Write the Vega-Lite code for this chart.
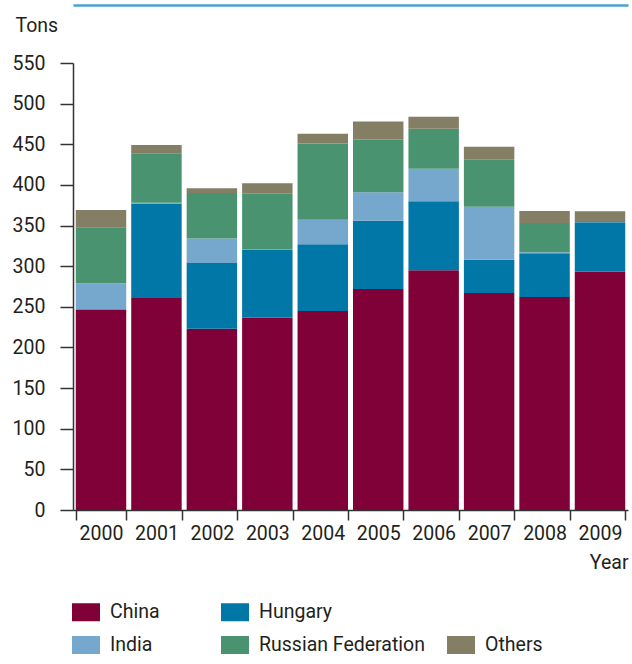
{
  "$schema": "https://vega.github.io/schema/vega-lite/v6.json",
  "autosize": {"type": "none"},
  "padding": {"left": 73, "top": 63, "right": 4, "bottom": 154},
  "width": 555,
  "height": 447,
  "background": "white",
  "config": {
    "font": "Roboto",
    "view": {"stroke": null},
    "axis": {"labelColor": "#231f20", "titleColor": "#231f20", "domainColor": "#333333", "tickColor": "#333333", "labelFontSize": 19.5, "titleFontSize": 19.5, "titleFontWeight": "normal", "grid": false},
    "legend": {"labelColor": "#231f20", "labelFontSize": 19.5, "labelLimit": 300, "symbolType": "M-1,-0.643H1V0.643H-1Z", "symbolSize": 784, "symbolStrokeWidth": 0, "symbolOpacity": 1, "labelOffset": 10}
  },
  "data": {
    "values": [
      {"Year": "2000", "Country": "China", "Rank": 1, "Tons": 246},
      {"Year": "2000", "Country": "Hungary", "Rank": 2, "Tons": 1},
      {"Year": "2000", "Country": "India", "Rank": 3, "Tons": 32},
      {"Year": "2000", "Country": "Russian Federation", "Rank": 4, "Tons": 69},
      {"Year": "2000", "Country": "Others", "Rank": 5, "Tons": 21},
      {"Year": "2001", "Country": "China", "Rank": 1, "Tons": 261},
      {"Year": "2001", "Country": "Hungary", "Rank": 2, "Tons": 116},
      {"Year": "2001", "Country": "India", "Rank": 3, "Tons": 1},
      {"Year": "2001", "Country": "Russian Federation", "Rank": 4, "Tons": 61},
      {"Year": "2001", "Country": "Others", "Rank": 5, "Tons": 10},
      {"Year": "2002", "Country": "China", "Rank": 1, "Tons": 223},
      {"Year": "2002", "Country": "Hungary", "Rank": 2, "Tons": 81},
      {"Year": "2002", "Country": "India", "Rank": 3, "Tons": 30},
      {"Year": "2002", "Country": "Russian Federation", "Rank": 4, "Tons": 56},
      {"Year": "2002", "Country": "Others", "Rank": 5, "Tons": 6},
      {"Year": "2003", "Country": "China", "Rank": 1, "Tons": 237},
      {"Year": "2003", "Country": "Hungary", "Rank": 2, "Tons": 83},
      {"Year": "2003", "Country": "India", "Rank": 3, "Tons": 1},
      {"Year": "2003", "Country": "Russian Federation", "Rank": 4, "Tons": 68},
      {"Year": "2003", "Country": "Others", "Rank": 5, "Tons": 13},
      {"Year": "2004", "Country": "China", "Rank": 1, "Tons": 245},
      {"Year": "2004", "Country": "Hungary", "Rank": 2, "Tons": 82},
      {"Year": "2004", "Country": "India", "Rank": 3, "Tons": 30},
      {"Year": "2004", "Country": "Russian Federation", "Rank": 4, "Tons": 94},
      {"Year": "2004", "Country": "Others", "Rank": 5, "Tons": 12},
      {"Year": "2005", "Country": "China", "Rank": 1, "Tons": 272},
      {"Year": "2005", "Country": "Hungary", "Rank": 2, "Tons": 84},
      {"Year": "2005", "Country": "India", "Rank": 3, "Tons": 35},
      {"Year": "2005", "Country": "Russian Federation", "Rank": 4, "Tons": 65},
      {"Year": "2005", "Country": "Others", "Rank": 5, "Tons": 22},
      {"Year": "2006", "Country": "China", "Rank": 1, "Tons": 295},
      {"Year": "2006", "Country": "Hungary", "Rank": 2, "Tons": 85},
      {"Year": "2006", "Country": "India", "Rank": 3, "Tons": 40},
      {"Year": "2006", "Country": "Russian Federation", "Rank": 4, "Tons": 49},
      {"Year": "2006", "Country": "Others", "Rank": 5, "Tons": 15},
      {"Year": "2007", "Country": "China", "Rank": 1, "Tons": 267},
      {"Year": "2007", "Country": "Hungary", "Rank": 2, "Tons": 41},
      {"Year": "2007", "Country": "India", "Rank": 3, "Tons": 65},
      {"Year": "2007", "Country": "Russian Federation", "Rank": 4, "Tons": 58},
      {"Year": "2007", "Country": "Others", "Rank": 5, "Tons": 16},
      {"Year": "2008", "Country": "China", "Rank": 1, "Tons": 262},
      {"Year": "2008", "Country": "Hungary", "Rank": 2, "Tons": 54},
      {"Year": "2008", "Country": "India", "Rank": 3, "Tons": 1},
      {"Year": "2008", "Country": "Russian Federation", "Rank": 4, "Tons": 36},
      {"Year": "2008", "Country": "Others", "Rank": 5, "Tons": 15},
      {"Year": "2009", "Country": "China", "Rank": 1, "Tons": 293},
      {"Year": "2009", "Country": "Hungary", "Rank": 2, "Tons": 61},
      {"Year": "2009", "Country": "India", "Rank": 3, "Tons": 0.5},
      {"Year": "2009", "Country": "Russian Federation", "Rank": 4, "Tons": 1},
      {"Year": "2009", "Country": "Others", "Rank": 5, "Tons": 12}
    ]
  },
  "resolve": {"axis": {"x": "independent"}},
  "layer": [
    {
      "mark": {"type": "bar"},
      "encoding": {
        "x": {
          "field": "Year", "type": "ordinal",
          "scale": {"paddingInner": 0.09, "paddingOuter": 0.05},
          "axis": {"orient": "bottom", "labelAngle": 0, "tickBand": "extent", "tickSize": 10, "labelPadding": 4, "domainWidth": 1.5, "tickWidth": 1.5,
            "title": "Year", "titleX": 555, "titleY": 52, "titleAlign": "right", "titleAnchor": null, "titleBaseline": "middle"}
        },
        "y": {
          "field": "Tons", "type": "quantitative", "aggregate": "sum",
          "scale": {"domain": [0, 550], "nice": false},
          "axis": {"values": [0, 50, 100, 150, 200, 250, 300, 350, 400, 450, 500, 550], "tickSize": 13, "labelPadding": 15, "domainWidth": 1.5, "tickWidth": 1.5,
            "title": "Tons", "titleAngle": 0, "titleX": -58, "titleY": -38, "titleAlign": "left", "titleBaseline": "middle", "titleAnchor": null}
        },
        "color": {
          "field": "Country", "type": "nominal",
          "scale": {
            "domain": ["China", "India", "Hungary", "Russian Federation", "Others"],
            "range": ["#800038", "#76A7CC", "#0077A6", "#4A9370", "#837E64"]
          },
          "legend": {
            "orient": "none", "legendX": -1, "legendY": 535, "columns": 2, "title": null,
            "values": ["China", "India", "Hungary", "Russian Federation"],
            "rowPadding": 9, "columnPadding": 61
          }
        },
        "order": {"field": "Rank", "type": "quantitative", "sort": "ascending"}
      }
    },
    {
      "transform": [{"filter": "datum.Country == 'Others'"}],
      "mark": {"type": "bar", "opacity": 0},
      "encoding": {
        "x": {
          "field": "Year", "type": "ordinal",
          "axis": {"orient": "top", "offset": 58, "labels": false, "ticks": false, "title": null, "domainColor": "#4BA3CC", "domainWidth": 2.5}
        },
        "fill": {
          "field": "Country", "type": "nominal",
          "scale": {"domain": ["Others"], "range": ["#837E64"]},
          "legend": {"orient": "none", "legendX": 374, "legendY": 568, "title": null, "symbolOpacity": 1, "symbolFillColor": "#837E64"}
        }
      }
    }
  ]
}
